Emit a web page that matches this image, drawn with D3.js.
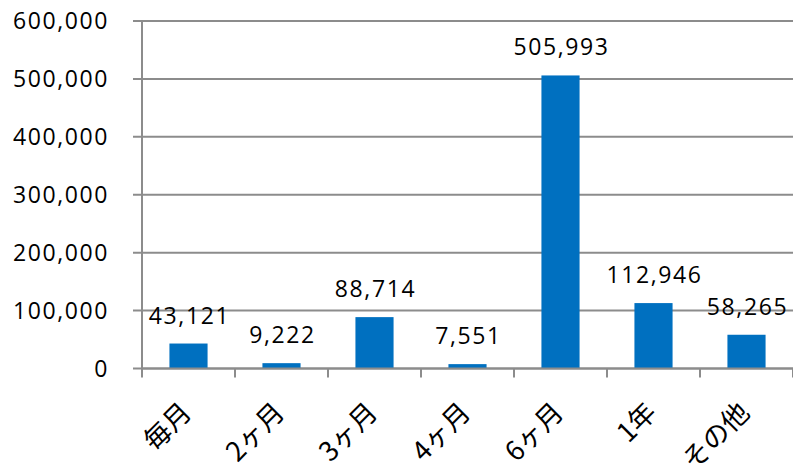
<!DOCTYPE html>
<meta charset="utf-8">
<script src="https://d3js.org/d3.v7.min.js"></script>
<style>
  body { margin: 0; background: #fff; }
  text { font-family: "Open Sans", "Liberation Sans", sans-serif; fill: #000; }
  .num { font-size: 23px; letter-spacing: 1.6px; }
  .cat { font-family: "Noto Sans CJK JP", sans-serif; font-size: 27px; }
</style>
<div id="chart"></div>
<script>

// data
var categories = ["毎月", "2ヶ月", "3ヶ月", "4ヶ月", "6ヶ月", "1年", "その他"];
var counts = [43121, 9222, 88714, 7551, 505993, 112946, 58265];
var yTicks = [0, 100000, 200000, 300000, 400000, 500000, 600000];

var W = 793, H = 471;
var plotLeft = 142, plotRight = 793, plotTop = 21, plotBottom = 368.5;

var svg = d3.select("#chart").append("svg")
    .attr("width", W)
    .attr("height", H);

var x = d3.scaleBand()
    .domain(categories)
    .range([plotLeft, plotRight])
    .paddingInner(0.59)
    .paddingOuter(0.295);

var y = d3.scaleLinear()
    .domain([0, 600000])
    .range([plotBottom, plotTop]);

var fmt = d3.format(",");

// gridlines + small outer ticks
svg.append("g").selectAll("line")
    .data(yTicks)
    .join("line")
      .attr("x1", plotLeft - 9)
      .attr("x2", plotRight)
      .attr("y1", function(d) { return y(d); })
      .attr("y2", function(d) { return y(d); })
      .attr("stroke", "#8c8c8c")
      .attr("stroke-width", 2);

// y labels
svg.append("g").selectAll("text")
    .data(yTicks)
    .join("text")
      .attr("class", "num")
      .attr("x", 109)
      .attr("y", function(d) { return y(d); })
      .attr("dy", "0.35em")
      .attr("text-anchor", "end")
      .text(function(d) { return fmt(d); });

// bars
svg.append("g").selectAll("rect")
    .data(counts)
    .join("rect")
      .attr("x", function(d, i) { return x(categories[i]); })
      .attr("y", function(d) { return y(d); })
      .attr("width", x.bandwidth())
      .attr("height", function(d) { return y(0) - y(d); })
      .attr("fill", "#0070c0");

// value labels
svg.append("g").selectAll("text")
    .data(counts)
    .join("text")
      .attr("class", "num")
      .attr("x", function(d, i) { return x(categories[i]) + x.bandwidth() / 2 + 1; })
      .attr("y", function(d) { return y(d) - 20; })
      .attr("text-anchor", "middle")
      .text(function(d) { return fmt(d); });

// y axis line
svg.append("line")
    .attr("x1", plotLeft).attr("x2", plotLeft)
    .attr("y1", plotTop).attr("y2", plotBottom + 9)
    .attr("stroke", "#8c8c8c")
    .attr("stroke-width", 2);

// x axis line and category boundary ticks
svg.append("line")
    .attr("x1", plotLeft).attr("x2", plotRight)
    .attr("y1", plotBottom).attr("y2", plotBottom)
    .attr("stroke", "#8c8c8c")
    .attr("stroke-width", 2);

var step = x.step();
svg.append("g").selectAll("line")
    .data(categories)
    .join("line")
      .attr("x1", function(d) { return x(d) + x.bandwidth() / 2 + step / 2; })
      .attr("x2", function(d) { return x(d) + x.bandwidth() / 2 + step / 2; })
      .attr("y1", plotBottom)
      .attr("y2", plotBottom + 9)
      .attr("stroke", "#8c8c8c")
      .attr("stroke-width", 2);

// rotated category labels
svg.append("g").selectAll("text")
    .data(categories)
    .join("text")
      .attr("class", "cat")
      .attr("transform", function(d) {
        return "translate(" + (x(d) + x.bandwidth() / 2 - 2) + "," + (plotBottom + 39) + ") rotate(-45)";
      })
      .attr("text-anchor", "end")
      .attr("dy", "0.35em")
      .text(function(d) { return d; });

</script>
